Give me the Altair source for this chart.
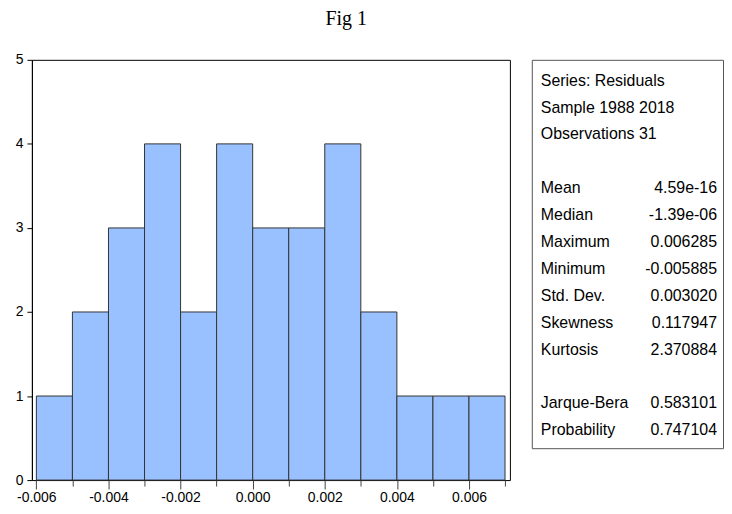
import altair as alt
import pandas as pd

# Histogram data (bin edges and counts)
bin_start = [-0.006, -0.005, -0.004, -0.003, -0.002, -0.001, 0.000, 0.001, 0.002, 0.003, 0.004, 0.005, 0.006]
bin_end = [-0.005, -0.004, -0.003, -0.002, -0.001, 0.000, 0.001, 0.002, 0.003, 0.004, 0.005, 0.006, 0.007]
counts = [1, 2, 3, 4, 2, 4, 3, 3, 4, 2, 1, 1, 1]
x_ticks = [-0.006, -0.005, -0.004, -0.003, -0.002, -0.001, 0.000, 0.001, 0.002, 0.003, 0.004, 0.005, 0.006, 0.007]
y_ticks = [0, 1, 2, 3, 4, 5]

# Statistics box
stat_labels = ["Series: Residuals", "Sample 1988 2018", "Observations 31", "",
               "Mean", "Median", "Maximum", "Minimum", "Std. Dev.", "Skewness", "Kurtosis", "",
               "Jarque-Bera", "Probability"]
stat_values = ["", "", "", "",
               "4.59e-16", "-1.39e-06", "0.006285", "-0.005885", "0.003020", "0.117947", "2.370884", "",
               "0.583101", "0.747104"]

FONT = "Liberation Sans"

hist_df = pd.DataFrame({"start": bin_start, "end": bin_end, "count": counts})
stats_df = pd.DataFrame({"label": stat_labels, "value": stat_values, "row": list(range(len(stat_labels)))})

even = "abs(round(datum.value*1000)) % 2 == 0"

hist = alt.Chart(hist_df).mark_rect(
    color="#99c0ff", stroke="#333333", strokeWidth=1
).encode(
    x=alt.X("start:Q", title=None,
            scale=alt.Scale(domain=[-0.006124, 0.007135], nice=False, zero=False),
            axis=alt.Axis(values=x_ticks, grid=False, domain=False,
                          labelExpr=even + " ? replace(format(datum.value, '.3f'), '\u2212', '-') : ''",
                          tickSize={"condition": {"test": even, "value": 9}, "value": 6},
                          tickColor="#444444", labelFont=FONT, labelFontSize=14, labelColor="black",
                          labelPadding=2)),
    x2="end:Q",
    y=alt.Y("count:Q", title=None,
            scale=alt.Scale(domain=[0, 5], nice=False),
            axis=alt.Axis(values=y_ticks, grid=False, domainColor="black", tickColor="black",
                          tickSize=5, labelFont=FONT, labelFontSize=14, labelColor="black",
                          labelPadding=4)),
    y2=alt.datum(0),
).properties(width=480, height=422, view=alt.ViewBackground(stroke="black", strokeWidth=1))

label_y = alt.Y("row:Q", axis=None,
                scale=alt.Scale(domain=[-0.7778, 13.6667], reverse=True, nice=False, zero=False))

labels = alt.Chart(stats_df).mark_text(
    align="left", baseline="middle", font=FONT, fontSize=16, color="black"
).encode(x=alt.value(9), y=label_y, text="label:N")

values = alt.Chart(stats_df).mark_text(
    align="right", baseline="middle", font=FONT, fontSize=16, color="black"
).encode(x=alt.value(186), y=label_y, text="value:N")

stats = alt.layer(labels, values).properties(
    width=192, height=390, view=alt.ViewBackground(stroke="#555555", strokeWidth=1)
)

chart = alt.hconcat(hist, stats, spacing=20).properties(
    title=alt.TitleParams("Fig 1", font="Liberation Serif", fontSize=20, fontWeight="normal",
                          color="black", anchor="middle", dx=-23, offset=23),
    background="white",
    padding={"left": 6, "top": 0, "right": 0, "bottom": 0},
).configure_concat(spacing=20)

chart.save("out.html", embed_options={"renderer": "svg", "actions": False})
